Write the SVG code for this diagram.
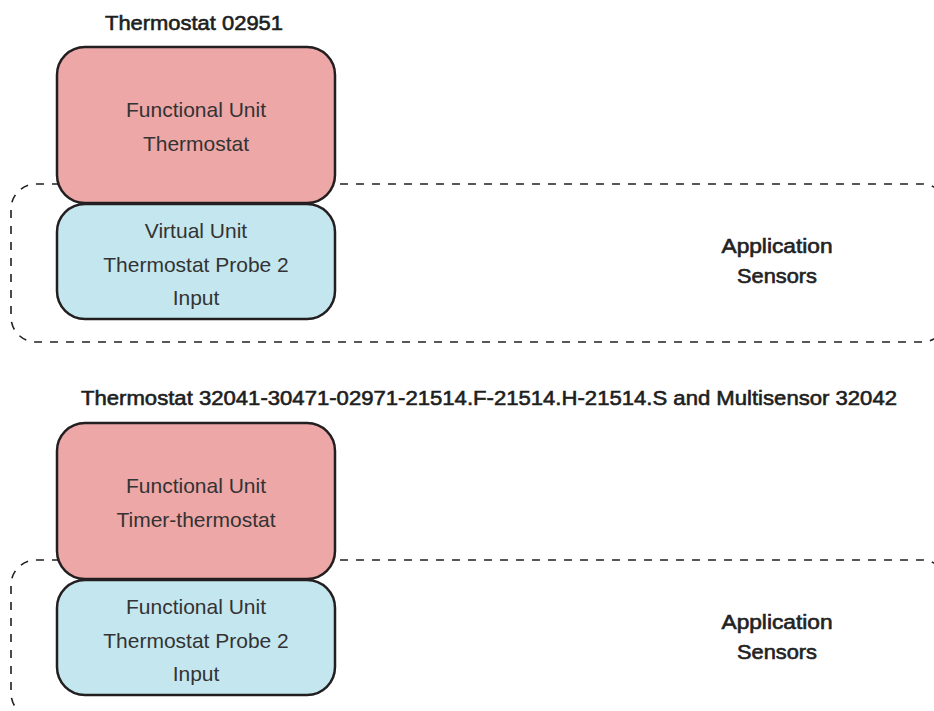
<svg xmlns="http://www.w3.org/2000/svg" width="934" height="711" viewBox="0 0 934 711">
<style>
.bg{fill:#ffffff}
.red{fill:#EDA7A7;stroke:#231F20;stroke-width:2.5}
.blue{fill:#C4E6EF;stroke:#231F20;stroke-width:2.5}
.dash{fill:none;stroke:#231F20;stroke-width:1.6;stroke-dasharray:8 8}
.box{font-family:"Liberation Sans",Arial,sans-serif;font-size:21px;fill:#333333;text-anchor:middle}
.head{font-family:"Liberation Sans",Arial,sans-serif;font-size:20.5px;fill:#1e1e1e;stroke:#1e1e1e;stroke-width:0.6}
.app{font-family:"Liberation Sans",Arial,sans-serif;font-size:20px;fill:#222222;stroke:#222222;stroke-width:0.6;text-anchor:middle}
</style>
<rect class="bg" x="0" y="0" width="934" height="711"/>
<g id="connectors"></g>

<g id="section1">
  <text class="head" x="194" y="30" text-anchor="middle" textLength="178" lengthAdjust="spacingAndGlyphs">Thermostat 02951</text>
  <g id="app1">
    <rect class="dash" x="11" y="184" width="936" height="158" rx="25" ry="25"/>
    <text class="app" x="777" y="253" textLength="111" lengthAdjust="spacingAndGlyphs">Application</text>
    <text class="app" x="777" y="283" textLength="80" lengthAdjust="spacingAndGlyphs">Sensors</text>
  </g>
  <g id="fu1">
    <rect class="red" x="57" y="47" width="278" height="156" rx="28" ry="28"/>
    <text class="box" x="196" y="117">Functional Unit</text>
    <text class="box" x="196" y="151">Thermostat</text>
  </g>
  <g id="vu1">
    <rect class="blue" x="57" y="204" width="278" height="115" rx="28" ry="28"/>
    <text class="box" x="196" y="238">Virtual Unit</text>
    <text class="box" x="196" y="272">Thermostat Probe 2</text>
    <text class="box" x="196" y="305">Input</text>
  </g>
</g>

<g id="section2">
  <text class="head" x="81" y="405" textLength="816" lengthAdjust="spacingAndGlyphs">Thermostat 32041-30471-02971-21514.F-21514.H-21514.S and Multisensor 32042</text>
  <g id="app2">
    <rect class="dash" x="11" y="560" width="936" height="158" rx="25" ry="25"/>
    <text class="app" x="777" y="629" textLength="111" lengthAdjust="spacingAndGlyphs">Application</text>
    <text class="app" x="777" y="659" textLength="80" lengthAdjust="spacingAndGlyphs">Sensors</text>
  </g>
  <g id="fu2">
    <rect class="red" x="57" y="423" width="278" height="156" rx="28" ry="28"/>
    <text class="box" x="196" y="493">Functional Unit</text>
    <text class="box" x="196" y="527">Timer-thermostat</text>
  </g>
  <g id="fu3">
    <rect class="blue" x="57" y="580" width="278" height="115" rx="28" ry="28"/>
    <text class="box" x="196" y="614">Functional Unit</text>
    <text class="box" x="196" y="648">Thermostat Probe 2</text>
    <text class="box" x="196" y="681">Input</text>
  </g>
</g>
</svg>
